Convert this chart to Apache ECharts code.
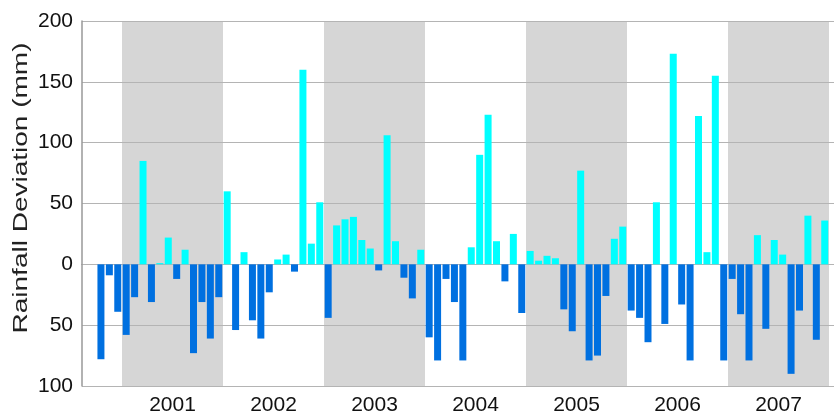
<!DOCTYPE html>
<html>
<head>
<meta charset="utf-8">
<script src="https://cdn.jsdelivr.net/npm/echarts@6/dist/echarts.min.js"></script>
<style>
  html, body { margin: 0; padding: 0; background: #fff; }
  #chart { width: 834px; height: 413px; }
</style>
</head>
<body>
<div id="chart"></div>
<script>
// years shown under the axis
const years = ["2001", "2002", "2003", "2004", "2005", "2006", "2007"];
// first month with data (months counted from Jan 2001 = 0)
const firstMonth = -3; // Oct 2000
// monthly rainfall deviation (mm), Oct 2000 .. Dec 2007
const deviation2000 = [-78, -9, -39];
const deviation2001 = [-58, -27, 85, -31, 1, 22, -12, 12, -73, -31, -61, -27];
const deviation2002 = [60, -54, 10, -46, -61, -23, 4, 8, -6, 160, 17, 51];
const deviation2003 = [-44, 32, 37, 39, 20, 13, -5, 106, 19, -11, -28, 12];
const deviation2004 = [-60, -79, -12, -31, -79, 14, 90, 123, 19, -14, 25, -40];
const deviation2005 = [11, 3, 7, 5, -37, -55, 77, -79, -75, -26, 21, 31];
const deviation2006 = [-38, -44, -64, 51, -49, 173, -33, -79, 122, 10, 155, -79];
const deviation2007 = [-12, -41, -79, 24, -53, 20, 8, -90, -38, 40, -62, 36];
const yTicks = [-100, -50, 0, 50, 100, 150, 200];

const values = [].concat(deviation2000, deviation2001, deviation2002, deviation2003,
  deviation2004, deviation2005, deviation2006, deviation2007);
// bar sits in the middle of its month
const barData = values.map((v, i) => [firstMonth + i + 0.5, v]);

const chart = echarts.init(document.getElementById("chart"));
const font = "Liberation Sans, Arial, sans-serif";

const option = {
  animation: false,
  grid: [
    { left: 82, right: 0, top: 21, bottom: 27, outerBoundsMode: "none" },
    { left: 122, right: 5, top: 21, bottom: 27, outerBoundsMode: "none" }
  ],
  xAxis: [
    {
      type: "value",
      gridIndex: 0,
      min: -4.75,
      max: 84.6,
      axisLine: { show: true, onZero: true, lineStyle: { color: "#555", width: 1 } },
      axisTick: { show: false },
      axisLabel: { show: false },
      splitLine: { show: false }
    },
    {
      type: "category",
      gridIndex: 1,
      data: years,
      z: 0,
      axisLine: { show: false },
      axisTick: { show: false },
      axisLabel: { color: "#111", fontSize: 21, fontFamily: font, margin: 9 },
      splitArea: { show: true, areaStyle: { color: ["#d6d6d6", "rgba(0,0,0,0)"] } }
    }
  ],
  yAxis: [
    {
      type: "value",
      gridIndex: 0,
      min: yTicks[0],
      max: yTicks[yTicks.length - 1],
      interval: 50,
      z: 1,
      axisLine: { show: true, onZero: false, lineStyle: { color: "#999", width: 1.5 } },
      axisTick: { show: false },
      axisLabel: {
        color: "#111",
        fontSize: 21,
        fontFamily: font,
        margin: 9,
        formatter: (v) => String(Math.abs(v))
      },
      splitLine: { show: true, lineStyle: { color: "#b4b4b4", width: 1 } }
    },
    {
      type: "value",
      gridIndex: 1,
      show: false
    }
  ],
  graphic: [
    {
      type: "text",
      x: 21,
      y: 188,
      rotation: Math.PI / 2,
      scaleX: 1.4,
      style: {
        text: "Rainfall Deviation (mm)",
        font: "20px " + font,
        fill: "#222",
        textAlign: "center",
        textVerticalAlign: "middle"
      }
    }
  ],
  series: [
    {
      type: "bar",
      xAxisIndex: 0,
      yAxisIndex: 0,
      z: 3,
      barWidth: 7,
      data: barData,
      itemStyle: {
        color: (p) => (p.value[1] >= 0 ? "#00ffff" : "#0070e0")
      }
    }
  ]
};

chart.setOption(option);
</script>
</body>
</html>
